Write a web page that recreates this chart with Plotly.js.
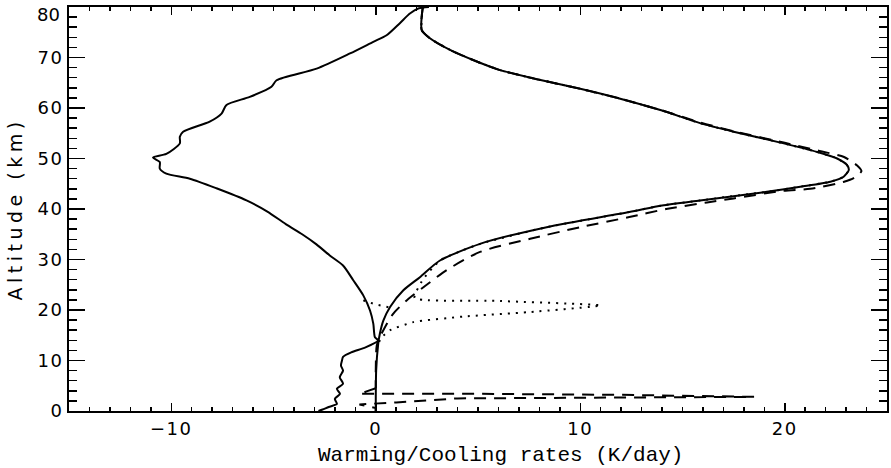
<!DOCTYPE html>
<html>
<head>
<meta charset="utf-8">
<script src="https://cdn.plot.ly/plotly-3.0.1.min.js"></script>
<style>
  html, body { margin: 0; padding: 0; background: #fff; }
  #chart { width: 891px; height: 468px; }
  .ytitle { letter-spacing: 4.5px; }
  .xtick text, .ytick text, .annotation-text.topval { letter-spacing: 1.5px; }
</style>
</head>
<body>
<div id="chart"></div>
<script>
// Net cooling profile (solid), rate in K/day vs altitude in km
const coolRate = [2.6, 2.08, 1.67, 1.18, 0.53, -0.12, -1.26, -2.89, -4.85, -5.10, -6.16, -7.30, -7.54, -8.12,
  -9.42, -9.58, -9.58, -10.24, -10.89, -10.56, -10.56, -10.24, -9.09, -7.79, -6.32, -5.3, -4.4, -3.6, -2.9,
  -2.25, -1.6, -1.1, -0.61, -0.28, -0.12, -0.04, 0.12, -0.5, -1.2, -1.6, -1.65, -1.7, -1.6, -1.76, -1.6,
  -1.9, -1.75, -2.0, -1.9, -2.3, -2.6, -2.8];
const coolAlt = [80.0, 79.7, 78.7, 76.8, 74.4, 73.1, 70.8, 67.8, 65.5, 64.2, 62.2, 60.6, 58.9, 57.3,
  55.3, 54.3, 53.0, 50.9, 50.2, 49.3, 48.0, 47.0, 46.0, 44.1, 41.7, 39.5, 37.0, 35.0, 33.0,
  30.8, 28.8, 25.9, 22.9, 19.9, 17.3, 14.6, 14.0, 12.6, 11.6, 10.7, 10.0, 9.0, 8.0, 6.7, 5.4,
  4.4, 3.4, 2.4, 1.4, 0.8, 0.3, 0.0];

// Solar heating profile (solid)
const heatRate = [2.3, 2.25, 2.65, 3.63, 4.94, 6.08, 8.0, 10.0, 12.0, 14.0, 15.86, 17.5, 19.95, 21.58, 22.56,
  23.05, 23.13, 22.88, 22.23, 20.76, 19.13, 15.86, 14.0, 12.4, 8.36, 5.1, 3.14, 2.16, 1.35, 0.7, 0.37, 0.2,
  0.12, 0.02, 0.0];
const heatAlt = [80.0, 75.4, 73.8, 71.5, 69.2, 67.5, 65.6, 63.8, 61.8, 59.5, 57.0, 55.3, 53.0, 51.3, 50.0,
  48.7, 47.7, 46.4, 45.4, 44.4, 43.4, 41.7, 40.7, 39.4, 36.4, 33.1, 29.8, 26.5, 23.9, 20.6, 17.9, 15.3,
  13.3, 8.0, 0.0];

// Heating, second case (dashed)
const dashRate = [2.3, 2.25, 2.65, 3.63, 4.94, 6.08, 8.0, 10.0, 12.0, 14.0, 15.9, 17.6, 20.0, 21.7, 22.9,
  23.54, 23.75, 23.4, 22.9, 21.25, 19.93, 17.5, 16.2, 14.2, 12.4, 10.0, 7.55, 5.1, 3.47, 2.33, 1.51, 0.86,
  0.45, 0.2, 0.05, 0.0, 0.0];
const dashAlt = [80.0, 75.4, 73.8, 71.5, 69.2, 67.5, 65.6, 63.8, 61.8, 59.5, 57.1, 55.3, 53.1, 51.5, 50.3,
  48.6, 47.5, 46.2, 45.4, 44.0, 43.6, 42.1, 41.3, 40.0, 38.4, 36.4, 34.1, 31.5, 27.9, 24.5, 21.9, 19.3,
  16.6, 14.6, 13.0, 8.0, 4.5];
// Near-surface part of the dashed case
const dashLowRate = [0.0, -0.8, 5.0, 12.0, 18.5, 12.0, 4.0, 1.0, -0.8, 0.0, 0.0];
const dashLowAlt = [4.5, 3.4, 3.4, 3.2, 2.8, 2.6, 2.5, 1.7, 1.3, 0.6, 0.0];

// Heating with a layer near 21 km (dotted)
const dotRate = [2.3, 2.25, 2.65, 3.63, 4.94, 6.08, 8.0, 10.0, 12.0, 14.0, 15.86, 17.5, 19.95, 21.58, 22.56,
  23.05, 23.13, 22.88, 22.23, 20.76, 19.13, 15.86, 14.0, 12.4, 8.36, 5.1, 3.14, 2.3, 1.9, 5.9, 11.0,
  7.55, 4.28, 1.84, 0.7, 0.29, 0.12];
const dotAlt = [80.0, 75.4, 73.8, 71.5, 69.2, 67.5, 65.6, 63.8, 61.8, 59.5, 57.0, 55.3, 53.0, 51.3, 50.0,
  48.7, 47.7, 46.4, 45.4, 44.4, 43.4, 41.7, 40.7, 39.4, 36.4, 33.1, 29.8, 26.0, 22.4, 21.8, 20.9,
  19.6, 18.7, 17.6, 16.0, 14.6, 13.3];
// Dotted branch on the cooling side near the layer
const dotCoolRate = [-0.61, 0.0, 0.8];
const dotCoolAlt = [21.9, 21.1, 20.4];

const xTickVals = [-10, 0, 10, 20];
const yTickVals = [0, 10, 20, 30, 40, 50, 60, 70];
const yTopLabel = '80';   // label of the top edge, set just inside the frame

const smooth = { color: '#000', width: 2, shape: 'spline', smoothing: 0.7 };
const straight = { color: '#000', width: 2 };
const traces = [
  { x: dotRate, y: dotAlt, mode: 'lines', line: Object.assign({}, smooth, { dash: '2px,6px', smoothing: 0.5 }) },
  { x: dotCoolRate, y: dotCoolAlt, mode: 'lines', line: Object.assign({}, straight, { dash: '2px,6px' }) },
  { x: dashRate, y: dashAlt, mode: 'lines', line: Object.assign({}, smooth, { dash: '12px,8px' }) },
  { x: dashLowRate, y: dashLowAlt, mode: 'lines', line: Object.assign({}, straight, { dash: '12px,8px' }) },
  { x: heatRate, y: heatAlt, mode: 'lines', line: smooth },
  { x: coolRate, y: coolAlt, mode: 'lines', line: smooth }
];

const tickFont = { family: 'DejaVu Sans', size: 18, color: '#000' };
const layout = {
  width: 891, height: 468,
  margin: { l: 69, r: 4, t: 7, b: 57 },
  showlegend: false,
  paper_bgcolor: '#fff', plot_bgcolor: '#fff',
  xaxis: {
    range: [-15, 25], tickmode: 'array', tickvals: xTickVals,
    ticks: 'inside', ticklen: 8, tickwidth: 1.5, tickcolor: '#000',
    minor: { dtick: 1, ticks: 'inside', ticklen: 4, tickwidth: 1.5, tickcolor: '#000', showgrid: false },
    showgrid: false, zeroline: false,
    showline: true, linecolor: '#000', linewidth: 2, mirror: 'ticks',
    tickfont: tickFont, ticklabeloverflow: 'allow'
  },
  yaxis: {
    range: [0, 80], tickmode: 'array', tickvals: yTickVals,
    ticks: 'inside', ticklen: 16, tickwidth: 1.5, tickcolor: '#000',
    minor: { dtick: 2, ticks: 'inside', ticklen: 8, tickwidth: 1.5, tickcolor: '#000', showgrid: false },
    showgrid: false, zeroline: false,
    showline: true, linecolor: '#000', linewidth: 2, mirror: 'ticks',
    tickfont: tickFont, ticklabeloverflow: 'allow',
    title: { text: 'Altitude (km)', font: { family: 'DejaVu Sans', size: 19, color: '#000' }, standoff: 10 }
  },
  annotations: [
    {
      text: 'Warming/Cooling rates (K/day)', showarrow: false,
      xref: 'paper', yref: 'paper', x: 0.528, y: -0.11, xanchor: 'center', yanchor: 'middle',
      font: { family: 'Liberation Mono', size: 21, color: '#000' }
    },
    {
      text: yTopLabel, showarrow: false,
      xref: 'paper', yref: 'paper', x: -0.008, y: 0.982, xanchor: 'right', yanchor: 'middle',
      font: tickFont
    }
  ]
};

Plotly.newPlot('chart', traces, layout, { staticPlot: true, displayModeBar: false });
</script>
</body>
</html>
